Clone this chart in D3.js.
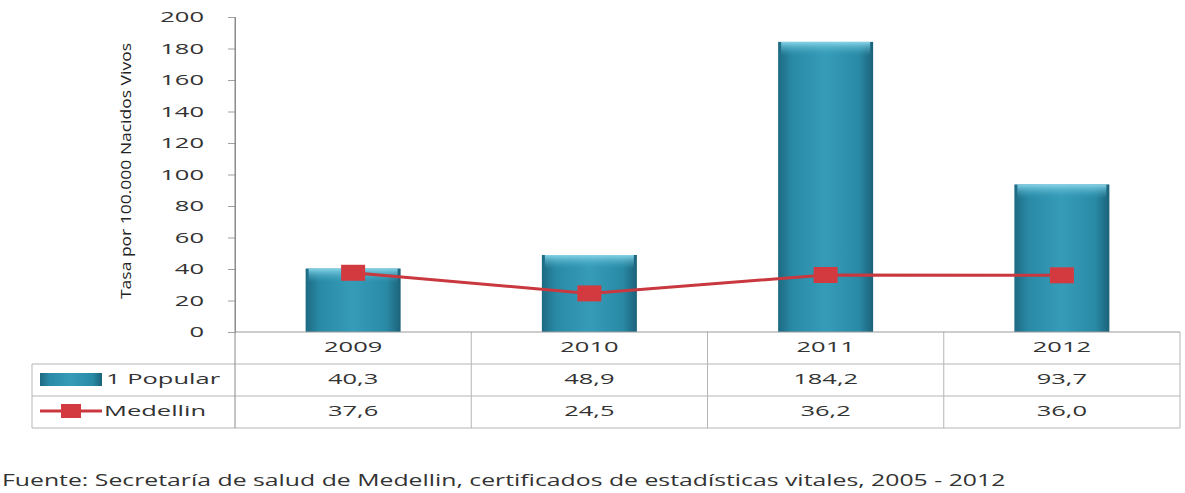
<!DOCTYPE html>
<html>
<head>
<meta charset="utf-8">
<script src="https://cdn.jsdelivr.net/npm/d3@7"></script>
<style>
  body { margin: 0; background: #fff; }
  svg { display: block; }
</style>
</head>
<body>
<div id="chart"></div>
<script>
// chart data
var years = ["2009", "2010", "2011", "2012"];
var popular = [40.3, 48.9, 184.2, 93.7];
var medellin = [37.6, 24.5, 36.2, 36.0];
var popularLabels = ["40,3", "48,9", "184,2", "93,7"];
var medellinLabels = ["37,6", "24,5", "36,2", "36,0"];
var yTicks = [0, 20, 40, 60, 80, 100, 120, 140, 160, 180, 200];

function init() {
    var w = 1185;
    var h = 493;
    var left = 235, right = 1180;
    var top = 17, bottom = 332;
    var rowH = 32;
    var sx = 1.7; // the source picture is stretched sideways
    var font = "'Open Sans', 'DejaVu Sans', sans-serif";

    var svg = d3.select("#chart").append("svg")
        .attr("width", w).attr("height", h);

    // stretched text helper
    function stext(parent, x, y, str, anchor, size, k) {
        return parent.append("text")
            .attr("transform", "translate(" + x + "," + y + ") scale(" + (k || sx) + ",1)")
            .attr("text-anchor", anchor)
            .attr("fill", "#333")
            .style("font-family", font)
            .style("font-size", size + "px")
            .text(str);
    }

    // gradients for the bars
    var defs = svg.append("defs");
    var g = defs.append("linearGradient").attr("id", "barGrad")
        .attr("x1", "0").attr("x2", "1").attr("y1", "0").attr("y2", "0");
    g.append("stop").attr("offset", "0%").attr("stop-color", "#1d6a82");
    g.append("stop").attr("offset", "15%").attr("stop-color", "#2a8aa6");
    g.append("stop").attr("offset", "50%").attr("stop-color", "#359cb8");
    g.append("stop").attr("offset", "85%").attr("stop-color", "#2a8aa6");
    g.append("stop").attr("offset", "100%").attr("stop-color", "#1b6279");
    var gt = defs.append("linearGradient").attr("id", "topGrad")
        .attr("x1", "0").attr("x2", "0").attr("y1", "0").attr("y2", "1");
    gt.append("stop").attr("offset", "0%").attr("stop-color", "#86d4e8");
    gt.append("stop").attr("offset", "100%").attr("stop-color", "#3aa0bc").attr("stop-opacity", 0);

    var x = d3.scaleBand().domain(years).range([left, right]).paddingInner(0).paddingOuter(0);
    var y = d3.scaleLinear().domain([0, 200]).range([bottom, top]);

    // y axis
    var yAxis = d3.axisLeft(y).tickValues(yTicks).tickSize(7).tickPadding(31);
    var ya = svg.append("g").attr("transform", "translate(" + left + ",0)").call(yAxis);
    ya.select(".domain").attr("stroke", "#8a8a8a");
    ya.selectAll(".tick line").attr("stroke", "#a0a0a0");
    ya.selectAll(".tick text")
        .attr("x", 0)
        .attr("transform", "translate(-31,0) scale(" + sx + ",1)")
        .attr("fill", "#333")
        .style("font-size", "15px")
        .style("font-family", font);

    // y axis title
    svg.append("text")
        .attr("transform", "translate(131,171) rotate(-90)")
        .attr("text-anchor", "middle")
        .attr("fill", "#222")
        .attr("textLength", 256)
        .attr("lengthAdjust", "spacingAndGlyphs")
        .style("font-family", font)
        .style("font-size", "14px")
        .text("Tasa por 100.000  Nacidos Vivos");

    // bars
    var bw = 95;
    var bars = svg.append("g").selectAll("g").data(years).enter().append("g");
    bars.append("rect")
        .attr("x", function(d) { return x(d) + x.bandwidth() / 2 - bw / 2; })
        .attr("y", function(d, i) { return y(popular[i]); })
        .attr("width", bw)
        .attr("height", function(d, i) { return bottom - y(popular[i]); })
        .attr("fill", "url(#barGrad)");
    bars.append("rect")
        .attr("x", function(d) { return x(d) + x.bandwidth() / 2 - bw / 2 + 3; })
        .attr("y", function(d, i) { return y(popular[i]); })
        .attr("width", bw - 6)
        .attr("height", 14)
        .attr("fill", "url(#topGrad)");

    // line series
    var cx = function(d, i) { return x(years[i]) + x.bandwidth() / 2; };
    var line = d3.line().x(cx).y(function(d) { return y(d); });
    svg.append("path").datum(medellin)
        .attr("d", line)
        .attr("fill", "none")
        .attr("stroke", "#c8383e")
        .attr("stroke-width", 3);
    svg.append("g").selectAll("rect").data(medellin).enter().append("rect")
        .attr("x", function(d, i) { return cx(d, i) - 12; })
        .attr("y", function(d) { return y(d) - 8; })
        .attr("width", 24).attr("height", 16)
        .attr("fill", "#d33a40");

    // data table
    var tLeft = 32;
    var tbl = svg.append("g");
    [bottom + rowH, bottom + 2 * rowH, bottom + 3 * rowH].forEach(function(ly) {
        tbl.append("line").attr("x1", tLeft).attr("x2", right).attr("y1", ly).attr("y2", ly)
            .attr("stroke", "#b5b5b5");
    });
    tbl.append("line").attr("x1", tLeft).attr("x2", tLeft)
        .attr("y1", bottom + rowH).attr("y2", bottom + 3 * rowH).attr("stroke", "#b5b5b5");
    years.concat(["end"]).forEach(function(d, i) {
        var vx = i < years.length ? x(d) : right;
        tbl.append("line").attr("x1", vx).attr("x2", vx)
            .attr("y1", i === 0 ? top : bottom).attr("y2", bottom + 3 * rowH)
            .attr("stroke", i === 0 ? "#8a8a8a" : "#b5b5b5");
    });
    tbl.append("line").attr("x1", left).attr("x2", right).attr("y1", bottom).attr("y2", bottom)
        .attr("stroke", "#9a9a9a");

    function rowText(labels, row) {
        labels.forEach(function(d, i) {
            stext(tbl, x(years[i]) + x.bandwidth() / 2, bottom + row * rowH + 20, d, "middle", 15);
        });
    }
    rowText(years, 0);
    rowText(popularLabels, 1);
    rowText(medellinLabels, 2);

    // legend keys inside the table
    tbl.append("rect").attr("x", 40).attr("y", bottom + rowH + 9).attr("width", 62).attr("height", 13)
        .attr("fill", "url(#barGrad)");
    stext(tbl, 106, bottom + rowH + 20, "1 Popular", "start", 15);
    tbl.append("line").attr("x1", 40).attr("x2", 102)
        .attr("y1", bottom + 2 * rowH + 15).attr("y2", bottom + 2 * rowH + 15)
        .attr("stroke", "#c8383e").attr("stroke-width", 3);
    tbl.append("rect").attr("x", 61).attr("y", bottom + 2 * rowH + 8).attr("width", 20).attr("height", 14)
        .attr("fill", "#d33a40");
    stext(tbl, 104, bottom + 2 * rowH + 20, "Medellin", "start", 15);

    // source note
    stext(svg, 2, 486, "Fuente: Secretaría de salud de Medellin, certificados de estadísticas vitales, 2005 - 2012", "start", 16, 1.55);
}

window.onload = init;
</script>
</body>
</html>
